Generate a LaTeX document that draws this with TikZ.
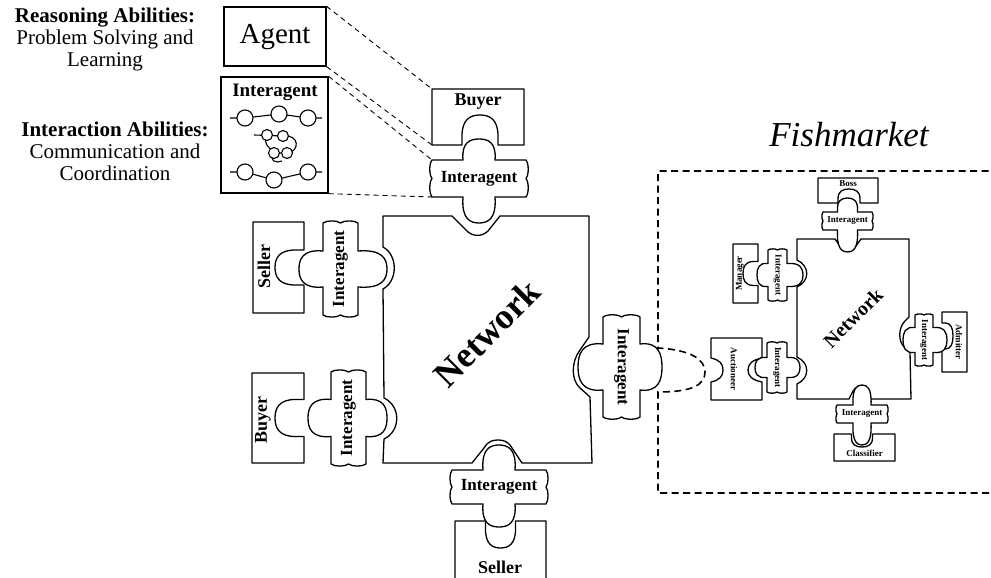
\documentclass[tikz,border=0pt]{standalone}
\usepackage{fontspec}
\setmainfont{Liberation Serif}
\newcommand{\iashape}[8]{%
\begin{scope}[shift={(#1,#2)},rotate=#3]
\draw[piece] (-#4,-#5) -- (-#6,-#5)
 .. controls ({-#6*1.1},{-#5-#7*0.85}) and ({-#6*0.55},{-#5-#7}) .. (0,{-#5-#7})
 .. controls ({#6*0.55},{-#5-#7}) and ({#6*1.1},{-#5-#7*0.85}) .. (#6,-#5)
 -- (#4,-#5)
 .. controls ({#4+#5*0.16},{-#5*0.8}) and ({#4+#5*0.16},{-#5*0.2}) .. (#4,0)
 .. controls ({#4+#5*0.16},{#5*0.2}) and ({#4+#5*0.16},{#5*0.8}) .. (#4,#5)
 -- (#6,#5)
 .. controls ({#6*1.1},{#5+#8*0.85}) and ({#6*0.55},{#5+#8}) .. (0,{#5+#8})
 .. controls ({-#6*0.55},{#5+#8}) and ({-#6*1.1},{#5+#8*0.85}) .. (-#6,#5)
 -- (-#4,#5)
 .. controls ({-#4-#5*0.16},{#5*0.8}) and ({-#4-#5*0.16},{#5*0.2}) .. (-#4,0)
 .. controls ({-#4-#5*0.16},{-#5*0.2}) and ({-#4-#5*0.16},{-#5*0.8}) .. (-#4,-#5) -- cycle;
\end{scope}}
% box with a socket: cx cy rot A B S D off
\newcommand{\sockbox}[8]{%
\begin{scope}[shift={(#1,#2)},rotate=#3]
\draw[piece] (-#4,-#5) -- (#4,-#5) -- (#4,#5) -- ({#8+#6},#5)
 -- ({#8+#6},{#5-#7*0.3})
 .. controls ({#8+#6},{#5-#7*0.85}) and ({#8+#6*0.55},{#5-#7}) .. (#8,{#5-#7})
 .. controls ({#8-#6*0.55},{#5-#7}) and ({#8-#6},{#5-#7*0.85}) .. ({#8-#6},{#5-#7*0.3})
 -- ({#8-#6},#5) -- (-#4,#5) -- cycle;
\end{scope}}
\begin{document}
\begin{tikzpicture}[x=1pt,y=-1pt,
  piece/.style={draw=black, line width=1.3pt, line join=round, fill=white},
  icon/.style={draw=black, line width=1.1pt},
  conn/.style={draw=black, line width=0.9pt, dash pattern=on 5pt off 4pt},
  fish/.style={draw=black, line width=1.6pt, dash pattern=on 7pt off 4.5pt},
  lbl/.style={font=\bfseries\fontsize{18}{18}\selectfont, inner sep=0pt},
  ialbl/.style={font=\bfseries\fontsize{17}{17}\selectfont, inner sep=0pt},
  slbl/.style={font=\bfseries\fontsize{9}{9}\selectfont, inner sep=0pt},
  box/.style={draw=black, line width=1.3pt, inner sep=0pt}]
\useasboundingbox (0,0) rectangle (991,578);
\clip (0,0) rectangle (991,578);

% ---------- left texts ----------
\node[align=center, font=\fontsize{21}{22}\selectfont, inner sep=0pt] (reason) at (105,39)
  {\textbf{Reasoning Abilities:}\\Problem Solving and\\Learning};
\node[align=center, font=\fontsize{21}{22}\selectfont, inner sep=0pt] (interact) at (115,151)
  {\textbf{Interaction Abilities:}\\Communication and\\Coordination};

% ---------- agent & interagent boxes ----------
\node[box, minimum width=102pt, minimum height=59pt] (agent) at (275,36.5) {};
\node[font=\fontsize{29}{29}\selectfont] (agentlbl) at (275,37) {Agent};
\node[box, minimum width=107pt, minimum height=116pt] (iabox) at (274.5,135) {};
\node[font=\bfseries\fontsize{19}{19}\selectfont, inner sep=0pt] (iaboxlbl) at (275,92) {Interagent};
% icons
\draw[icon] (230,118) -- (245,118) -- (279,114) -- (308,118) -- (322,118);
\foreach \p in {(245,118),(279,114),(308,118)} \draw[icon,fill=white] \p circle[radius=8pt];
\draw[icon] (230,172) -- (245,172) -- (274,180) -- (308,172) -- (322,172);
\foreach \p in {(245,172),(274,180),(308,172)} \draw[icon,fill=white] \p circle[radius=8pt];
\draw[icon] (254,135) -- (283,136) .. controls (300,134) and (300,152) .. (287,153) -- (274,153);
\draw[icon] (267,135) .. controls (262,145) and (270,147) .. (274,153);
\draw[icon] (274,153) .. controls (268,160) and (276,164) .. (282,161);
\foreach \p in {(267,135),(283,136),(274,153),(287,153)} \draw[icon,fill=white] \p circle[radius=5.5pt];

% ---------- named anchor coordinates ----------
\coordinate (buyerTL) at (432,89);
\coordinate (buyerBL) at (432,145);
\coordinate (iaTL) at (432,160);
\coordinate (iaBL) at (432,197);
\draw[conn] (agent.north east) -- (buyerTL);
\draw[conn] (agent.south east) -- (buyerBL);
\draw[conn] (iabox.north east) -- (iaTL);
\draw[conn] (iabox.south east) -- (iaBL);

% ---------- fishmarket frame ----------
\coordinate (fmA) at (658,348);
\coordinate (fmB) at (658,392);
\draw[fish] (1000,171) -- (658,171) -- (fmA)
  .. controls (692,350) and (705,360) .. (705,372)
  .. controls (705,385) and (692,392) .. (fmB) -- (658,493) -- (1000,493);
\node[font=\itshape\fontsize{35}{35}\selectfont, inner sep=0pt] (fmlbl) at (849,135) {Fishmarket};

% ---------- main network ----------
\draw[piece] (383,216) -- (452,216) -- (466,230) .. controls (472,237) and (482,237) .. (488,231) -- (500,216)
  -- (589,216) -- (589,337) -- (580,350) .. controls (571,362) and (571,380) .. (580,388) -- (590,397)
  -- (592,463) -- (522,463) -- (512,448) .. controls (508,441) and (503,440) .. (498,440)
  .. controls (493,440) and (488,441) .. (484,448) -- (472,463) -- (383,463)
  -- (384,439) .. controls (401,431) and (401,406) .. (384,398)
  -- (383,289) .. controls (398,281) and (398,255) .. (383,247) -- cycle;
\node[font=\bfseries\fontsize{36}{36}\selectfont, rotate=45, inner sep=0pt] (netlbl) at (487,333) {Network};

% ---------- main pieces ----------
\sockbox{478}{117}{0}{46}{28}{18}{30}{2}
\node[lbl] (tbuyer) at (478,102) {Buyer};
\iashape{479}{178.5}{0}{47}{18.5}{16}{21}{26}
\node[ialbl] (tia) at (479,179) {Interagent};

\sockbox{278.5}{267.5}{90}{45.5}{25.5}{17.5}{29}{0}
\node[lbl, rotate=90] (lseller) at (264,267) {Seller};
\iashape{340.5}{269}{90}{46}{17.5}{18}{24}{29}
\node[ialbl, rotate=90] (lia1) at (340.5,269) {Interagent};

\sockbox{278}{418}{90}{45}{26}{18.5}{29}{0}
\node[lbl, rotate=90] (lbuyer) at (263,420) {Buyer};
\iashape{348.5}{418}{90}{46}{17.5}{18.5}{23}{21}
\node[ialbl, rotate=90] (lia2) at (348.5,418) {Interagent};

\iashape{621.5}{367}{90}{50}{18.5}{23}{25}{22}
\node[ialbl, rotate=-90] (ria) at (621.5,367) {Interagent};

\iashape{499}{487}{0}{47}{17}{16}{25}{23}
\node[ialbl] (bia) at (499,487) {Interagent};
\sockbox{500.5}{561}{180}{45.5}{40}{15}{27}{0}
\node[lbl] (bseller) at (500,567) {Seller};

% ---------- small network ----------
\draw[piece] (797,239) -- (835,239) -- (840,246) .. controls (844,253) and (852,253) .. (856,246) -- (861,239)
  -- (909,239) -- (909,317) -- (905,321) .. controls (898,328) and (898,342) .. (905,348) -- (910,352)
  -- (911,399) -- (871,399) -- (867,391) .. controls (864,385) and (856,385) .. (853,391) -- (849,399)
  -- (797,399) -- (797,384) .. controls (810,378) and (810,363) .. (797,357)
  -- (797,287) .. controls (810,281) and (810,266) .. (797,260) -- cycle;
\node[font=\bfseries\fontsize{20}{20}\selectfont, rotate=45, inner sep=0pt] (snetlbl) at (853,318) {Network};

\sockbox{848}{190.5}{0}{30}{12.5}{11}{14}{1}
\node[slbl] (boss) at (848,184) {Boss};
\iashape{847.5}{221}{0}{24.5}{9}{10}{14}{22}
\node[slbl] (bossia) at (847.5,221) {Interagent};

\sockbox{745.5}{273.5}{90}{29.5}{12.5}{12}{15}{0}
\node[slbl, rotate=90] (manager) at (740,273.5) {Manager};
\iashape{777.5}{275}{90}{25}{9.5}{11.5}{11}{16}
\node[slbl, rotate=-90] (manageria) at (777.5,275) {Interagent};

\draw[piece] (711,338) -- (762,338) -- (762,358) .. controls (752,360) and (748,364) .. (748,370)
  .. controls (748,376) and (752,380) .. (762,382) -- (762,400) -- (711,400) -- (711,382)
  .. controls (720,380) and (723,376) .. (723,370) .. controls (723,364) and (720,360) .. (711,358) -- cycle;
\node[slbl, rotate=-90] (auctioneer) at (734,369) {Auctioneer};
\iashape{777}{367.5}{90}{24.5}{10}{10}{12}{13}
\node[slbl, rotate=-90] (auctia) at (777,367.5) {Interagent};

\sockbox{954.5}{342}{-90}{30}{12.5}{13}{11}{-6}
\node[slbl, rotate=-90] (admitter) at (959,342) {Admitter};
\iashape{924}{340}{90}{25}{9}{12.5}{12}{14}
\node[slbl, rotate=-90] (admitteria) at (924,340) {Interagent};

\iashape{862}{414}{0}{25}{9}{9}{20}{22}
\node[slbl] (classia) at (862,414) {Interagent};
\sockbox{864.5}{447.5}{180}{30.5}{13.5}{10.5}{13}{2.5}
\node[slbl] (classifier) at (864.5,453) {Classifier};
\end{tikzpicture}
\end{document}
